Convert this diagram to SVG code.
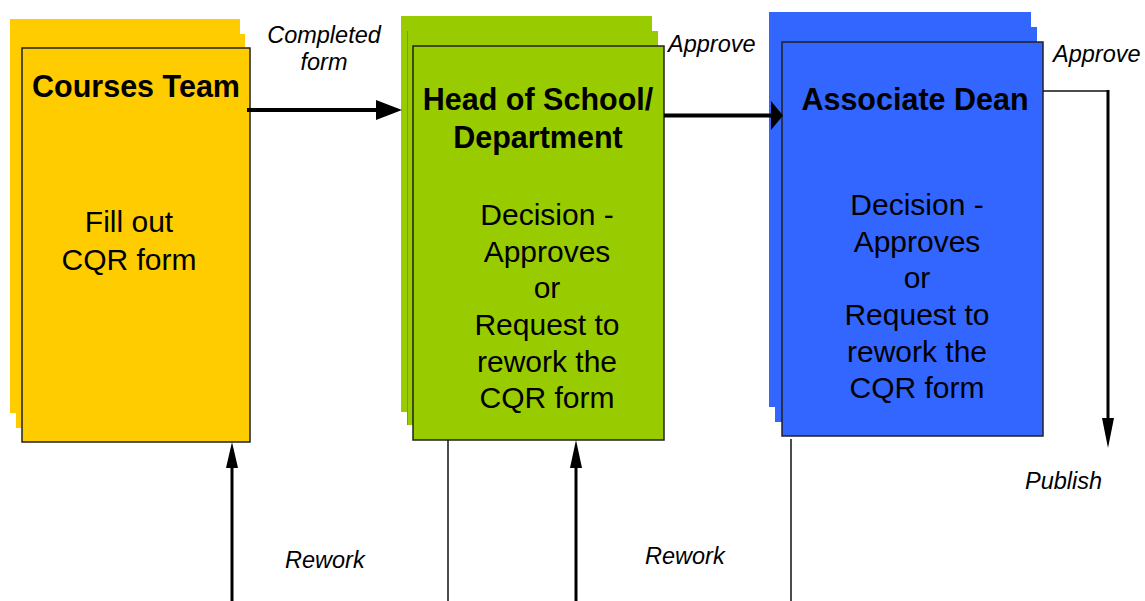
<svg xmlns="http://www.w3.org/2000/svg" width="1145" height="601" viewBox="0 0 1145 601">
<style>
  text { font-family: "Liberation Sans", Arial, sans-serif; fill: #000; }
  .head { font-size: 30.5px; font-weight: bold; text-anchor: middle; }
  .body { font-size: 30px; text-anchor: middle; }
  .lbl { font-size: 23.5px; font-style: italic; }
  .front { stroke: #222; stroke-width: 1.5; }
  .yellow { fill: #FFCC00; }
  .green { fill: #99CC00; }
  .blue { fill: #3366FF; }
  .thick { stroke: #000; stroke-width: 4; fill: none; }
  .med { stroke: #000; stroke-width: 3; fill: none; }
  .thin { stroke: #111; stroke-width: 1.5; fill: none; }
  .head-fill { fill: #000; stroke: none; }
</style>
<rect width="1145" height="601" fill="#fff"/>

<g id="node-courses-team">
  <rect class="yellow" x="10" y="19" width="230" height="394"/>
  <rect class="yellow" x="16" y="34" width="229" height="394"/>
  <rect class="yellow front" x="22" y="48" width="228" height="394"/>
  <text class="head" x="136" y="97">Courses Team</text>
  <text class="body" x="129" y="232">Fill out</text>
  <text class="body" x="129" y="270">CQR form</text>
</g>

<g id="node-head-of-school">
  <rect class="green" x="401" y="16" width="251" height="396"/>
  <rect class="green" x="407" y="31" width="251" height="394"/>
  <line x1="407.5" y1="31" x2="407.5" y2="425" stroke="#7f9f10" stroke-width="1"/>
  <rect class="green front" x="413" y="46" width="251" height="394"/>
  <text class="head" x="538" y="110">Head of School/</text>
  <text class="head" x="538" y="148">Department</text>
  <text class="body" x="547" y="225">Decision -</text>
  <text class="body" x="547" y="262">Approves</text>
  <text class="body" x="547" y="298">or</text>
  <text class="body" x="547" y="335">Request to</text>
  <text class="body" x="547" y="372">rework the</text>
  <text class="body" x="547" y="408">CQR form</text>
</g>

<g id="node-associate-dean">
  <rect class="blue" x="769" y="12" width="262" height="395"/>
  <rect class="blue" x="775" y="27" width="262" height="395"/>
  <rect class="blue front" x="782" y="42" width="261" height="394"/>
  <text class="head" x="915" y="110">Associate Dean</text>
  <text class="body" x="917" y="215">Decision -</text>
  <text class="body" x="917" y="252">Approves</text>
  <text class="body" x="917" y="288">or</text>
  <text class="body" x="917" y="325">Request to</text>
  <text class="body" x="917" y="362">rework the</text>
  <text class="body" x="917" y="398">CQR form</text>
</g>

<g id="connectors">
  <!-- Completed form -->
  <line class="thick" x1="247" y1="110" x2="378" y2="110"/>
  <polygon class="head-fill" points="376,100 402,110 376,120"/>
  <!-- Approve to Associate Dean -->
  <line class="thick" x1="664" y1="115.5" x2="774" y2="115.5" stroke-width="5"/>
  <polygon class="head-fill" points="771,101 783,115.5 771,130"/>
  <!-- Publish -->
  <polyline class="thin" points="1043,91 1108,91"/>
  <line class="med" x1="1108" y1="90" x2="1108" y2="420"/>
  <polygon class="head-fill" points="1102,418 1108,448 1114,418"/>
  <!-- Rework to Courses Team -->
  <line class="med" x1="232" y1="601" x2="232" y2="466"/>
  <polygon class="head-fill" points="226,468 232,442 238,468"/>
  <!-- Rework to Head of School -->
  <line class="med" x1="576" y1="601" x2="576" y2="466"/>
  <polygon class="head-fill" points="570,468 576,440 582,468"/>
  <!-- thin lines -->
  <line class="thin" x1="448" y1="440" x2="448" y2="601"/>
  <line class="thin" x1="791" y1="439" x2="791" y2="601"/>
</g>

<g id="labels">
  <text class="lbl" x="324" y="43" text-anchor="middle">Completed</text>
  <text class="lbl" x="324" y="70" text-anchor="middle">form</text>
  <text class="lbl" x="668" y="52">Approve</text>
  <text class="lbl" x="1053" y="62">Approve</text>
  <text class="lbl" x="285" y="568">Rework</text>
  <text class="lbl" x="645" y="564">Rework</text>
  <text class="lbl" x="1025" y="489">Publish</text>
</g>
</svg>
